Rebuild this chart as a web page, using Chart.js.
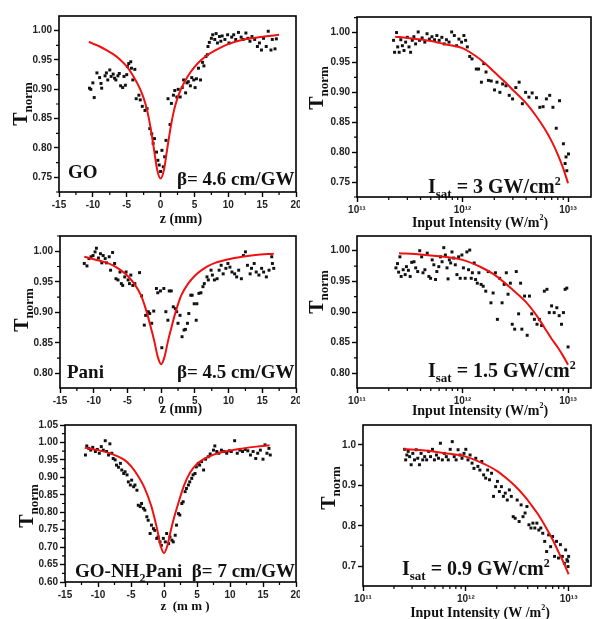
<!DOCTYPE html>
<html>
<head>
<meta charset="utf-8">
<script src="https://cdn.jsdelivr.net/npm/chart.js@4.4.1/dist/chart.umd.min.js"></script>
<style>
  body { margin: 0; background: #fff; }
  #page { position: relative; width: 595px; height: 619px; overflow: hidden; background: #fff; }
  canvas { position: absolute; }
</style>
</head>
<body>
<div id="page">
  <canvas id="c1" width="300" height="230" style="left:0px;top:0px"></canvas>
  <canvas id="c2" width="295" height="232" style="left:300px;top:0px"></canvas>
  <canvas id="c3" width="300" height="188" style="left:0px;top:230px"></canvas>
  <canvas id="c4" width="295" height="186" style="left:300px;top:232px"></canvas>
  <canvas id="c5" width="300" height="201" style="left:0px;top:418px"></canvas>
  <canvas id="c6" width="295" height="201" style="left:300px;top:418px"></canvas>
</div>
<script>
// Tick labels
const zTicks = [-15, -10, -5, 0, 5, 10, 15, 20];
const intensityTicks = [1e11, 1e12, 1e13];
const goTTicks = [0.75, 0.80, 0.85, 0.90, 0.95, 1.00];
const paniTTicks = [0.80, 0.85, 0.90, 0.95, 1.00];
const nh2TTicks = [0.60, 0.65, 0.70, 0.75, 0.80, 0.85, 0.90, 0.95, 1.00, 1.05];
const nh2IsatTTicks = [0.7, 0.8, 0.9, 1.0];

// GO: z-scan (z in mm, normalised transmittance)
const goPoints = [[-10.5,0.902],[-10.3,0.900],[-9.8,0.886],[-10.0,0.911],[-9.4,0.928],[-9.0,0.920],[-8.8,0.910],[-8.7,0.902],[-8.2,0.923],[-8.0,0.928],[-7.8,0.916],[-7.5,0.933],[-7.3,0.922],[-7.0,0.926],[-6.8,0.919],[-6.6,0.916],[-6.3,0.923],[-6.1,0.927],[-5.9,0.906],[-5.6,0.903],[-5.4,0.922],[-5.2,0.907],[-5.0,0.925],[-4.9,0.939],[-4.7,0.944],[-4.4,0.947],[-4.3,0.936],[-4.1,0.916],[-3.8,0.934],[-3.6,0.884],[-3.2,0.890],[-3.0,0.882],[-2.7,0.871],[-2.3,0.864],[-2.0,0.867],[-1.6,0.833],[-1.3,0.824],[-1.1,0.808],[-0.9,0.816],[-0.6,0.793],[-0.4,0.779],[-0.2,0.771],[0.0,0.760],[0.2,0.796],[0.4,0.768],[0.6,0.785],[0.8,0.813],[1.1,0.884],[1.4,0.840],[1.6,0.876],[1.9,0.890],[2.1,0.898],[2.4,0.887],[2.6,0.900],[2.9,0.887],[3.2,0.903],[3.4,0.916],[3.7,0.894],[3.9,0.911],[4.1,0.913],[4.4,0.906],[4.6,0.920],[4.9,0.916],[5.1,0.903],[5.3,0.918],[5.6,0.936],[5.9,0.916],[6.2,0.946],[6.4,0.940],[6.7,0.956],[6.9,0.959],[7.0,0.973],[7.2,0.980],[7.5,0.987],[7.7,0.993],[8.0,0.985],[8.2,0.995],[8.4,0.979],[8.7,0.990],[8.9,0.982],[9.1,0.991],[9.5,0.985],[9.9,0.993],[10.1,0.979],[10.5,0.989],[10.8,0.993],[11.1,0.985],[11.5,0.997],[11.9,0.989],[12.2,0.985],[12.6,0.996],[12.9,0.987],[13.2,0.982],[13.5,0.990],[13.9,0.985],[14.3,0.973],[14.6,0.979],[14.9,0.967],[15.2,0.987],[15.6,0.973],[15.9,0.999],[16.3,0.967],[16.5,0.985],[16.9,0.969],[17.1,0.986]];
const goFit = [[-10.6,0.981],[-10,0.978],[-9,0.973],[-8,0.967],[-7,0.960],[-6,0.951],[-5,0.939],[-4,0.922],[-3,0.900],[-2.5,0.885],[-2,0.865],[-1.5,0.836],[-1,0.800],[-0.5,0.763],[0,0.748],[0.5,0.763],[1,0.800],[1.5,0.836],[2,0.865],[2.5,0.885],[3,0.900],[4,0.922],[5,0.938],[6,0.950],[7,0.959],[8,0.966],[9,0.972],[10,0.977],[12,0.984],[14,0.988],[16,0.991],[17.5,0.993]];

// GO: transmittance vs input intensity (W/m2)
const goIsatPoints = [[2.22e11,0.987],[2.27e11,0.967],[2.37e11,1.000],[2.43e11,0.976],[2.51e11,0.967],[2.60e11,0.988],[2.69e11,0.978],[2.79e11,0.970],[2.89e11,0.984],[3.00e11,0.992],[3.11e11,0.976],[3.22e11,0.967],[3.34e11,0.987],[3.46e11,0.993],[3.59e11,0.981],[3.80e11,1.001],[3.91e11,0.987],[4.14e11,0.991],[4.39e11,0.984],[4.61e11,0.998],[4.85e11,0.989],[5.13e11,0.993],[5.43e11,0.988],[5.71e11,0.995],[6.01e11,0.987],[6.37e11,0.992],[6.70e11,0.981],[7.04e11,0.988],[7.45e11,0.984],[7.89e11,1.001],[8.36e11,0.995],[8.79e11,0.978],[9.24e11,0.989],[9.79e11,0.984],[1.03e12,0.995],[1.07e12,0.987],[1.11e12,0.976],[1.17e12,0.960],[1.23e12,0.956],[1.35e12,0.939],[1.42e12,0.939],[1.51e12,0.917],[1.59e12,0.948],[1.67e12,0.934],[1.76e12,0.920],[1.87e12,0.919],[2.01e12,0.904],[2.12e12,0.917],[2.26e12,0.900],[2.40e12,0.914],[2.58e12,0.911],[2.77e12,0.895],[2.98e12,0.889],[3.20e12,0.908],[3.44e12,0.917],[3.69e12,0.881],[3.96e12,0.900],[4.26e12,0.892],[4.57e12,0.899],[5.02e12,0.891],[5.40e12,0.875],[5.80e12,0.876],[6.23e12,0.889],[6.70e12,0.895],[7.19e12,0.875],[7.73e12,0.840],[8.30e12,0.886],[9.04e12,0.814],[9.38e12,0.781],[9.57e12,0.792],[9.73e12,0.769],[1.01e13,0.797]];
const goIsatFit = [[2.3e11,0.993],[3e11,0.991],[5e11,0.986],[7e11,0.980],[1e12,0.974],[1.3e12,0.962],[1.6e12,0.950],[2e12,0.934],[2.5e12,0.918],[3e12,0.904],[4e12,0.882],[5e12,0.860],[6e12,0.839],[7e12,0.818],[8e12,0.796],[9e12,0.773],[1e13,0.748]];

// Pani: z-scan
const paniPoints = [[-11.4,0.980],[-11.0,0.976],[-10.7,0.988],[-10.4,0.991],[-10.1,0.993],[-9.8,0.999],[-9.6,1.005],[-9.3,0.989],[-9.0,0.996],[-8.8,0.981],[-8.6,0.993],[-8.3,0.988],[-8.1,0.981],[-7.7,0.991],[-7.5,0.969],[-7.2,0.998],[-6.9,0.980],[-6.7,0.955],[-6.4,0.953],[-6.1,0.966],[-5.9,0.947],[-5.7,0.944],[-5.4,0.958],[-5.2,0.966],[-4.9,0.953],[-4.7,0.947],[-4.5,0.961],[-4.2,0.944],[-3.9,0.947],[-3.2,0.965],[-2.9,0.927],[-2.5,0.879],[-2.3,0.895],[-1.9,0.901],[-1.7,0.898],[-1.4,0.882],[-1.1,0.902],[-0.7,0.939],[-0.5,0.932],[-0.1,0.935],[0.1,0.842],[0.4,0.939],[0.7,0.901],[1.0,0.887],[1.2,0.935],[1.5,0.935],[1.8,0.909],[2.1,0.906],[2.3,0.901],[2.5,0.882],[2.8,0.895],[3.1,0.860],[3.4,0.871],[3.6,0.872],[3.9,0.882],[4.1,0.898],[4.4,0.928],[4.6,0.928],[4.9,0.914],[5.2,0.887],[5.3,0.914],[5.6,0.931],[5.9,0.932],[6.2,0.942],[6.4,0.947],[6.8,0.958],[7.0,0.953],[7.4,0.969],[7.6,0.961],[7.9,0.953],[8.3,0.955],[8.6,0.969],[8.9,0.977],[9.2,0.963],[9.6,0.972],[9.9,0.980],[10.2,0.974],[10.5,0.966],[10.9,0.963],[11.2,0.958],[11.5,0.969],[11.9,0.955],[12.2,0.993],[12.5,0.999],[12.8,0.977],[13.2,0.963],[13.4,0.972],[13.8,0.980],[14.1,0.966],[14.5,0.961],[14.9,0.972],[15.2,0.966],[15.6,0.958],[16.0,0.969],[16.4,0.991],[16.5,0.980],[16.7,0.972]];
const paniFit = [[-11.4,0.991],[-10,0.987],[-8,0.981],[-7,0.976],[-6,0.969],[-5,0.960],[-4,0.947],[-3,0.928],[-2.5,0.913],[-2,0.895],[-1.5,0.874],[-1,0.852],[-0.5,0.827],[0,0.815],[0.5,0.827],[1,0.852],[1.5,0.874],[2,0.895],[2.5,0.913],[3,0.928],[4,0.947],[5,0.960],[6,0.969],[7,0.976],[8,0.981],[10,0.987],[12,0.991],[14,0.994],[16.7,0.996]];

// Pani: transmittance vs input intensity
const paniIsatPoints = [[2.34e11,0.972],[2.42e11,0.979],[2.48e11,0.965],[2.55e11,0.990],[2.62e11,0.958],[2.74e11,0.969],[2.86e11,0.961],[2.94e11,0.974],[3.07e11,0.968],[3.19e11,0.958],[3.30e11,0.981],[3.47e11,0.982],[3.60e11,0.972],[3.76e11,0.966],[3.93e11,1.000],[4.10e11,0.990],[4.22e11,0.964],[4.40e11,0.969],[4.63e11,0.996],[4.80e11,0.958],[4.98e11,0.955],[5.16e11,0.985],[5.35e11,0.977],[5.55e11,0.953],[5.71e11,0.966],[5.96e11,0.974],[6.18e11,0.990],[6.40e11,0.982],[6.64e11,1.005],[6.88e11,0.993],[7.13e11,0.972],[7.29e11,0.954],[7.50e11,0.985],[7.72e11,0.980],[7.94e11,0.998],[8.24e11,0.988],[8.54e11,0.977],[8.85e11,0.961],[9.18e11,0.990],[9.51e11,0.955],[9.86e11,0.993],[1.02e12,0.972],[1.06e12,0.955],[1.10e12,0.998],[1.14e12,0.969],[1.17e12,1.001],[1.21e12,0.955],[1.24e12,0.964],[1.29e12,0.980],[1.33e12,0.953],[1.38e12,0.947],[1.43e12,0.964],[1.50e12,0.945],[1.57e12,0.942],[1.66e12,0.934],[1.75e12,0.966],[1.86e12,0.915],[1.95e12,0.931],[2.05e12,0.964],[2.14e12,0.888],[2.25e12,0.955],[2.37e12,0.915],[2.48e12,0.945],[2.60e12,0.964],[2.70e12,0.929],[2.84e12,0.947],[2.96e12,0.880],[3.12e12,0.872],[3.23e12,0.966],[3.40e12,0.897],[3.55e12,0.947],[3.65e12,0.872],[3.87e12,0.926],[4.10e12,0.862],[4.31e12,0.926],[4.53e12,0.897],[4.80e12,0.888],[5.08e12,0.880],[5.35e12,0.888],[5.62e12,0.878],[5.96e12,0.934],[6.31e12,0.937],[6.64e12,0.899],[6.98e12,0.910],[7.39e12,0.899],[7.83e12,0.907],[8.24e12,0.894],[8.67e12,0.880],[9.04e12,0.899],[9.38e12,0.937],[9.73e12,0.939],[1.00e13,0.843]];
const paniIsatFit = [[2.5e11,0.996],[4e11,0.994],[6e11,0.991],[1e12,0.985],[1.5e12,0.973],[2e12,0.961],[3e12,0.936],[4e12,0.916],[5e12,0.895],[6e12,0.874],[7e12,0.856],[8e12,0.842],[9e12,0.828],[1e13,0.814]];

// GO-NH2Pani: z-scan
const nh2Points = [[-11.9,0.964],[-11.7,0.990],[-11.4,0.983],[-11.1,0.978],[-10.8,0.986],[-10.4,0.974],[-10.1,0.980],[-9.8,0.969],[-9.5,0.988],[-9.2,0.978],[-8.9,1.005],[-8.7,0.974],[-8.4,0.964],[-8.2,0.996],[-7.9,0.969],[-7.7,0.954],[-7.4,0.950],[-7.2,0.935],[-6.9,0.929],[-6.6,0.940],[-6.4,0.921],[-6.1,0.911],[-5.9,0.916],[-5.6,0.907],[-5.4,0.887],[-5.1,0.878],[-4.9,0.892],[-4.6,0.873],[-4.4,0.878],[-4.1,0.863],[-3.9,0.820],[-3.6,0.816],[-3.4,0.825],[-3.1,0.811],[-2.9,0.806],[-2.6,0.787],[-2.4,0.777],[-2.1,0.739],[-1.9,0.763],[-1.6,0.753],[-1.4,0.748],[-1.1,0.725],[-0.9,0.729],[-0.6,0.715],[-0.4,0.705],[-0.1,0.725],[0.2,0.715],[0.4,0.739],[0.7,0.710],[0.9,0.729],[1.2,0.720],[1.4,0.715],[1.7,0.734],[1.9,0.763],[2.2,0.796],[2.4,0.792],[2.7,0.825],[2.9,0.830],[3.2,0.859],[3.4,0.868],[3.7,0.878],[3.9,0.887],[4.2,0.897],[4.4,0.907],[4.7,0.911],[4.9,0.930],[5.2,0.940],[5.4,0.935],[5.7,0.945],[6.0,0.921],[6.3,0.952],[6.7,0.959],[7.0,0.967],[7.5,0.978],[7.7,0.990],[8.0,0.974],[8.3,0.969],[8.7,0.978],[9.1,0.974],[9.5,0.969],[9.9,0.976],[10.2,0.974],[10.7,1.005],[11.1,0.969],[11.5,0.978],[11.9,0.974],[12.3,0.980],[12.7,0.976],[13.1,0.964],[13.5,0.974],[13.9,0.954],[14.2,0.969],[14.6,0.978],[15.0,0.952],[15.3,0.993],[15.6,0.969],[15.9,0.983],[16.1,0.964]];
const nh2Fit = [[-12,0.985],[-10,0.978],[-8,0.968],[-7,0.960],[-6,0.950],[-5,0.932],[-4,0.906],[-3,0.872],[-2,0.822],[-1.5,0.788],[-1,0.748],[-0.5,0.703],[0,0.683],[0.5,0.703],[1,0.745],[1.5,0.783],[2,0.815],[3,0.875],[4,0.915],[5,0.938],[6,0.952],[7,0.961],[8,0.968],[10,0.977],[12,0.983],[14,0.988],[16,0.992]];

// GO-NH2Pani: transmittance vs input intensity
const nh2IsatPoints = [[2.54e11,0.989],[2.60e11,0.963],[2.67e11,0.975],[2.75e11,0.984],[2.84e11,0.971],[2.94e11,0.951],[3.05e11,0.979],[3.17e11,0.963],[3.29e11,0.988],[3.41e11,0.967],[3.54e11,0.951],[3.67e11,0.979],[3.81e11,0.963],[3.98e11,0.971],[4.16e11,0.963],[4.35e11,0.984],[4.54e11,0.971],[4.74e11,0.989],[4.95e11,0.963],[5.18e11,0.975],[5.42e11,0.967],[5.66e11,1.004],[5.91e11,0.963],[6.18e11,0.979],[6.46e11,0.971],[6.75e11,0.963],[7.05e11,0.989],[7.38e11,1.008],[7.71e11,0.971],[8.05e11,0.963],[8.41e11,0.988],[8.79e11,0.975],[9.18e11,0.967],[9.60e11,0.979],[1.00e12,0.989],[1.05e12,0.963],[1.10e12,0.975],[1.15e12,0.955],[1.20e12,0.942],[1.25e12,0.967],[1.31e12,0.947],[1.37e12,0.938],[1.43e12,0.959],[1.49e12,0.926],[1.56e12,0.918],[1.63e12,0.938],[1.70e12,0.914],[1.78e12,0.930],[1.86e12,0.873],[1.95e12,0.897],[2.03e12,0.910],[2.12e12,0.885],[2.22e12,0.897],[2.32e12,0.873],[2.42e12,0.881],[2.53e12,0.864],[2.65e12,0.889],[2.77e12,0.873],[2.89e12,0.823],[3.02e12,0.819],[3.16e12,0.864],[3.30e12,0.811],[3.45e12,0.852],[3.60e12,0.823],[3.77e12,0.832],[3.93e12,0.848],[4.11e12,0.803],[4.30e12,0.795],[4.49e12,0.807],[4.69e12,0.795],[4.91e12,0.807],[5.13e12,0.790],[5.36e12,0.795],[5.60e12,0.782],[5.85e12,0.762],[6.11e12,0.737],[6.39e12,0.778],[6.68e12,0.749],[6.98e12,0.774],[7.29e12,0.725],[7.62e12,0.762],[7.96e12,0.721],[8.32e12,0.754],[8.69e12,0.725],[9.09e12,0.708],[9.35e12,0.741],[9.63e12,0.717],[9.78e12,0.713],[9.86e12,0.700],[1.00e13,0.725]];
const nh2IsatFit = [[2.5e11,0.990],[4e11,0.986],[6e11,0.980],[1e12,0.971],[1.5e12,0.953],[2e12,0.936],[2.5e12,0.917],[3e12,0.899],[3.7e12,0.874],[4.3e12,0.853],[5e12,0.830],[6e12,0.797],[7e12,0.766],[8e12,0.735],[9e12,0.708],[1e13,0.681]];

const serif = '"Liberation Serif", "Times New Roman", serif';
const sans = '"Liberation Sans", Arial, sans-serif';
const supDigits = { "0": "\u2070", "1": "\u00b9", "2": "\u00b2", "3": "\u00b3" };

// text pieces for the labels (t = text, s = size, dy = baseline shift)
const tNorm = [{ t: "T", s: 20 }, { t: "norm", s: 13, dy: 5 }];
const zTitle = [{ t: "z (mm)", s: 14 }];
const zTitleSpaced = [{ t: "z  (m m )", s: 13 }];
const intTitle = [{ t: "Input Intensity (W/m", s: 14 }, { t: "2", s: 8, dy: -7 }, { t: ")", s: 14 }];
const intTitleSpaced = [{ t: "Input Intensity (W /m", s: 14 }, { t: "2", s: 8, dy: -7 }, { t: ")", s: 14 }];
const isat = (rest) => [{ t: "I", s: 20 }, { t: "sat", s: 13, dy: 5 }, { t: rest, s: 20 }, { t: "2", s: 12, dy: -8 }];

// Panel layout: axis sizes, ranges, titles and notes
const panels = [
  { id: "c1", points: goPoints, fit: goFit, log: false, xTicks: zTicks, yTicks: goTTicks, yMin: 0.725, yMax: 1.025, dec: 2,
    pad: { top: 16, right: 2 }, yWidth: 59, xHeight: 38, yTitle: [27, 104], xTitle: [zTitle, 181, 223],
    notes: [[[{ t: "GO", s: 19 }], 68, 178], [[{ t: "\u03b2= 4.6 cm/GW", s: 19 }], 177, 185]] },
  { id: "c2", points: goIsatPoints, fit: goIsatFit, log: true, xTicks: intensityTicks, yTicks: goTTicks, yMin: 0.725, yMax: 1.026, dec: 2,
    pad: { top: 17, right: 1 }, yWidth: 57, xHeight: 35, yTitle: [23, 88], xTitle: [intTitle, 180, 227],
    notes: [[isat(" = 3 GW/cm"), 128, 193]] },
  { id: "c3", points: paniPoints, fit: paniFit, log: false, xTicks: zTicks, yTicks: paniTTicks, yMin: 0.776, yMax: 1.025, dec: 2,
    pad: { top: 6, right: 2 }, yWidth: 60, xHeight: 30, yTitle: [28, 80], xTitle: [zTitle, 181, 183],
    notes: [[[{ t: "Pani", s: 19 }], 67, 148], [[{ t: "\u03b2= 4.5 cm/GW", s: 19 }], 177, 148]] },
  { id: "c4", points: paniIsatPoints, fit: paniIsatFit, log: true, xTicks: intensityTicks, yTicks: paniTTicks, yMin: 0.776, yMax: 1.024, dec: 2,
    pad: { top: 2, right: 1 }, yWidth: 57, xHeight: 30, yTitle: [23, 60], xTitle: [intTitle, 180, 183],
    notes: [[isat(" = 1.5 GW/cm"), 128, 145]] },
  { id: "c5", points: nh2Points, fit: nh2Fit, log: false, xTicks: zTicks, yTicks: nh2TTicks, yMin: 0.60, yMax: 1.05, dec: 2,
    pad: { top: 7, right: 3 }, yWidth: 65, xHeight: 37, yTitle: [33, 88], xTitle: [zTitleSpaced, 185, 192],
    notes: [[[{ t: "GO-NH", s: 19 }, { t: "2", s: 12, dy: 5 }, { t: "Pani  \u03b2= 7 cm/GW", s: 19 }], 75, 159]] },
  { id: "c6", points: nh2IsatPoints, fit: nh2IsatFit, log: true, xTicks: intensityTicks, yTicks: nh2IsatTTicks, yMin: 0.652, yMax: 1.049, dec: 1,
    pad: { top: 7, right: 1 }, yWidth: 63, xHeight: 33, yTitle: [35, 70], xTitle: [intTitleSpaced, 180, 199],
    notes: [[isat(" = 0.9 GW/cm"), 102, 157]] }
];

// draws a run of text pieces; align "left", "center" or rotated (y titles)
const drawRich = (ctx, parts, x, y, mode) => {
  ctx.save();
  ctx.fillStyle = "#111";
  ctx.textBaseline = "alphabetic";
  ctx.textAlign = "left";
  let total = 0;
  parts.forEach((p) => {
    ctx.font = "bold " + p.s + "px " + serif;
    total += ctx.measureText(p.t).width;
  });
  ctx.translate(x, y);
  if (mode === "rotate") ctx.rotate(-Math.PI / 2);
  let cx = mode === "left" ? 0 : -total / 2;
  parts.forEach((p) => {
    ctx.font = "bold " + p.s + "px " + serif;
    ctx.fillText(p.t, cx, p.dy || 0);
    cx += ctx.measureText(p.t).width;
  });
  ctx.restore();
};

// box, minor ticks, titles and notes
const decorPlugin = {
  id: "decor",
  afterDraw: (chart) => {
    const cfg = chart.options.plugins.decor;
    const ctx = chart.ctx;
    const a = chart.chartArea;
    const xs = chart.scales.x;
    const ys = chart.scales.y;
    ctx.save();
    ctx.strokeStyle = "#000";
    ctx.lineWidth = 1.6;
    ctx.strokeRect(a.left, a.top, a.right - a.left, a.bottom - a.top);

    ctx.lineWidth = 1.2;
    ctx.beginPath();
    // minor ticks on x
    const xMinor = [];
    if (cfg.log) {
      [11, 12, 13].forEach((d) => {
        for (let m = 2; m <= 9; m++) xMinor.push(m * Math.pow(10, d));
      });
    } else {
      for (let v = -12.5; v < 20; v += 5) xMinor.push(v);
    }
    xMinor.forEach((v) => {
      const px = xs.getPixelForValue(v);
      if (px < a.left || px > a.right) return;
      ctx.moveTo(px, a.bottom);
      ctx.lineTo(px, a.bottom + 3);
    });
    // minor ticks on y (half way between labels)
    const yt = cfg.yTicks;
    const step = yt[1] - yt[0];
    for (let i = -1; i < yt.length; i++) {
      const v = yt[0] + (i + 0.5) * step;
      if (v < ys.min || v > ys.max) continue;
      const py = ys.getPixelForValue(v);
      ctx.moveTo(a.left, py);
      ctx.lineTo(a.left - 3, py);
    }
    ctx.stroke();
    ctx.restore();

    drawRich(ctx, tNorm, cfg.yTitle[0], cfg.yTitle[1], "rotate");
    drawRich(ctx, cfg.xTitle[0], cfg.xTitle[1], cfg.xTitle[2], "center");
    cfg.notes.forEach((n) => drawRich(ctx, n[0], n[1], n[2], "left"));
  }
};

const toXY = (arr) => arr.map((p) => ({ x: p[0], y: p[1] }));

const makePanel = (p) => {
  const tickFont = { family: sans, size: 10, weight: "bold" };
  const grid = { drawOnChartArea: false, drawTicks: true, tickLength: 5, tickColor: "#000", tickWidth: 1.4 };
  return new Chart(document.getElementById(p.id), {
    type: "scatter",
    data: {
      datasets: [
        {
          data: toXY(p.fit),
          showLine: true,
          borderColor: "#f01010",
          borderWidth: 2,
          pointRadius: 0,
          cubicInterpolationMode: "monotone",
          fill: false
        },
        {
          data: toXY(p.points),
          pointStyle: "rect",
          pointRadius: 2.1,
          backgroundColor: "#111",
          borderColor: "#111",
          borderWidth: 0
        }
      ]
    },
    options: {
      responsive: false,
      animation: false,
      devicePixelRatio: 1,
      layout: { padding: { top: p.pad.top, right: p.pad.right, left: 0, bottom: 0 } },
      plugins: {
        legend: { display: false },
        tooltip: { enabled: false },
        decor: { log: p.log, yTicks: p.yTicks, yTitle: p.yTitle, xTitle: p.xTitle, notes: p.notes }
      },
      scales: {
        x: {
          type: p.log ? "logarithmic" : "linear",
          min: p.log ? 1e11 : -15,
          max: p.log ? 1.65e13 : 20,
          grid: grid,
          border: { display: false },
          afterBuildTicks: (s) => { s.ticks = p.xTicks.map((v) => ({ value: v })); },
          afterFit: (s) => { s.height = p.xHeight; s.paddingLeft = 0; s.paddingRight = 0; },
          ticks: {
            font: tickFont,
            color: "#222",
            padding: 2,
            maxRotation: 0,
            autoSkip: false,
            callback: (v) => {
              if (!p.log) return String(v);
              const e = String(Math.round(Math.log10(v)));
              return "10" + e.split("").map((c) => supDigits[c]).join("");
            }
          }
        },
        y: {
          type: "linear",
          min: p.yMin,
          max: p.yMax,
          grid: grid,
          border: { display: false },
          afterBuildTicks: (s) => { s.ticks = p.yTicks.map((v) => ({ value: v })); },
          afterFit: (s) => { s.width = p.yWidth; s.paddingTop = 0; s.paddingBottom = 0; },
          ticks: {
            font: tickFont,
            color: "#222",
            padding: 2,
            autoSkip: false,
            callback: (v) => Number(v).toFixed(p.dec)
          }
        }
      }
    },
    plugins: [decorPlugin]
  });
};

panels.forEach(makePanel);
</script>
</body>
</html>
